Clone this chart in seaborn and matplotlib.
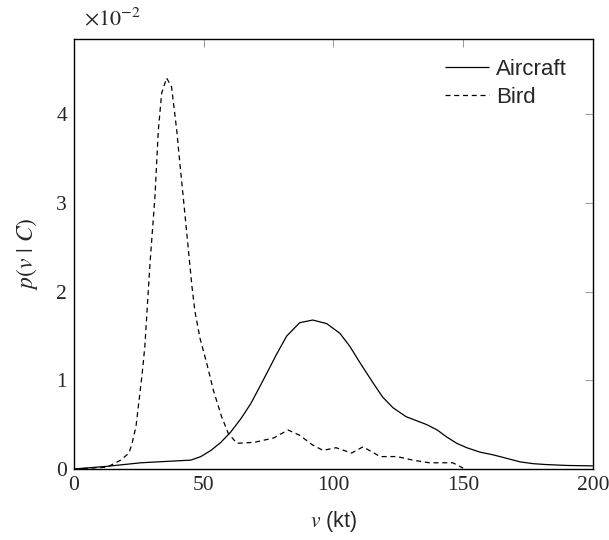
import pandas as pd
import matplotlib.pyplot as plt
import seaborn as sns

# Valeurs (densité en unités de 1e-2)
aircraft_v = [0, 12.7, 25.8, 38.5, 45, 48.9, 52.8, 56.6, 60.5, 64.4, 68.2, 72, 75.9, 78,
              82, 87, 92, 97.4, 102.5, 106.4, 110.2, 115.3, 119, 123, 128, 136, 140,
              143.7, 147.5, 151.4, 156.5, 161.5, 166.8, 172, 177, 182, 190, 200]
aircraft_p = [0.0, 0.03, 0.07, 0.09, 0.10, 0.14, 0.21, 0.30, 0.42, 0.57, 0.74, 0.95, 1.17,
              1.29, 1.50, 1.65, 1.68, 1.64, 1.53, 1.38, 1.20, 0.97, 0.81, 0.69, 0.59,
              0.50, 0.44, 0.36, 0.29, 0.24, 0.19, 0.16, 0.12, 0.08, 0.06, 0.05, 0.04, 0.035]

bird_v = [0, 12.7, 18, 21.2, 22.4, 23.9, 25.1, 26.3, 27.3, 29.3, 31.2, 32.5, 33.8, 35.7,
          37.6, 39.6, 40.8, 42.1, 44, 45.5, 46.6, 48.6, 51.1, 53.7, 56.9, 59.5, 62.8,
          69.4, 77, 82.5, 87, 92, 96, 101, 107, 111.4, 118, 124.5, 130.6, 137, 146, 150]
bird_p = [0.0, 0.02, 0.10, 0.18, 0.29, 0.48, 0.78, 1.08, 1.38, 2.32, 3.07, 3.82, 4.24,
          4.41, 4.31, 3.82, 3.45, 3.07, 2.50, 2.05, 1.78, 1.47, 1.20, 0.89, 0.59, 0.40,
          0.29, 0.30, 0.35, 0.44, 0.38, 0.27, 0.21, 0.24, 0.18, 0.25, 0.14, 0.14, 0.10,
          0.07, 0.07, 0.01]

df = pd.concat([
    pd.DataFrame({"v": aircraft_v, "p": [x / 100 for x in aircraft_p], "Class": "Aircraft"}),
    pd.DataFrame({"v": bird_v, "p": [x / 100 for x in bird_p], "Class": "Bird"}),
])

sns.set_style("white")
plt.rcParams['mathtext.fontset'] = 'stix'
plt.rcParams['font.family'] = ['Liberation Sans', 'DejaVu Sans']

fig = plt.figure(figsize=(6.09, 5.4), dpi=100)
ax = fig.add_axes([0.1215, 0.1315, 0.852, 0.7963])

sns.lineplot(data=df, x="v", y="p", hue="Class", style="Class",
             palette=["black", "black"], dashes=[(1, 0), (4, 3)],
             linewidth=0.9, ax=ax, sort=False)

ax.set_xlim(0, 200)
ax.set_ylim(0, 0.0485)
ax.set_xticks([0, 50, 100, 150, 200])
ax.set_yticks([0, 0.01, 0.02, 0.03, 0.04])
ax.set_xticklabels(["0", "50", "100", "150", "200"], family="Liberation Serif", fontsize=15.5)
ax.set_yticklabels(["0", "1", "2", "3", "4"], family="Liberation Serif", fontsize=15.5)
ax.tick_params(direction="in", length=6, width=0.6, color="#888888",
               top=True, right=True, pad=5)
for s in ax.spines.values():
    s.set_color("black")
    s.set_linewidth(1.0)

ax.set_xlabel("$v$ (kt)", fontsize=15.5, labelpad=10)
ax.set_ylabel(r"$p(v\ |\ C)$", fontsize=17, labelpad=12)
ax.text(0.02, 1.02, r"$\times10^{-2}$", transform=ax.transAxes, fontsize=16,
        ha="left", va="bottom")

ax.legend(loc="upper right", bbox_to_anchor=(0.967, 0.974), borderaxespad=0,
          frameon=False, fontsize=16, handlelength=2.0, handletextpad=0.3,
          labelspacing=0.3)
ax.legend_.set_title(None)

fig.savefig("out.png", dpi=100)
